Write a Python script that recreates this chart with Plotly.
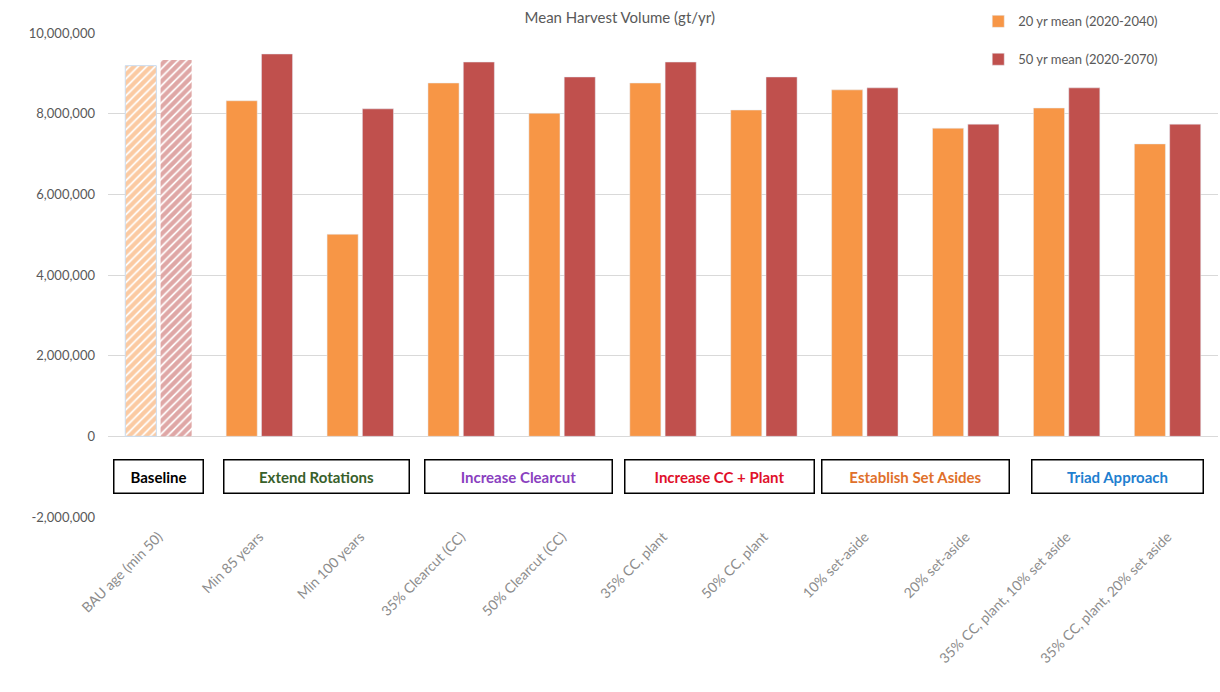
import plotly.graph_objects as go

categories = ["BAU age (min 50)", "Min 85 years", "Min 100 years", "35% Clearcut (CC)",
              "50% Clearcut (CC)", "35% CC, plant", "50% CC, plant", "10% set-aside",
              "20% set-aside", "35% CC, plant, 10% set aside", "35% CC, plant, 20% set aside"]
mean20 = [9190000, 8320000, 5010000, 8760000, 8010000, 8760000, 8090000, 8590000, 7640000, 8140000, 7250000]
mean50 = [9330000, 9480000, 8120000, 9280000, 8910000, 9280000, 8910000, 8640000, 7740000, 8640000, 7740000]
series_names = ["20 yr mean (2020-2040)", "50 yr mean (2020-2070)"]
y_ticks = [-2000000, 0, 2000000, 4000000, 6000000, 8000000, 10000000]
group_labels = ["Baseline", "Extend Rotations", "Increase Clearcut", "Increase CC + Plant",
                "Establish Set Asides", "Triad Approach"]
group_pos = [0, 1.57, 3.57, 5.56, 7.5, 9.5]
group_colors = ["#000000", "#38602a", "#8a3fc0", "#e0102a", "#e0702a", "#1f7fd0"]
group_widths = [80, 176, 178, 180, 178, 162]

ORANGE = "#F79646"
RED = "#C0504D"

fig = go.Figure()
# baseline hatched bars
fig.add_trace(go.Bar(x=categories[:1], y=mean20[:1], offsetgroup="a", showlegend=False,
                     marker=dict(color="white", line=dict(color="#c9dcf0", width=1),
                                 pattern=dict(shape="/", fgcolor=ORANGE, bgcolor="white",
                                              size=6, solidity=0.7, fillmode="overlay"))))
fig.add_trace(go.Bar(x=categories[:1], y=mean50[:1], offsetgroup="b", showlegend=False,
                     marker=dict(color="white", line=dict(color="white", width=0),
                                 pattern=dict(shape="/", fgcolor=RED, bgcolor="white",
                                              size=6, solidity=0.7, fillmode="overlay"))))
# scenario bars
fig.add_trace(go.Bar(x=categories[1:], y=mean20[1:], offsetgroup="a", name=series_names[0],
                     legendgroup="g1", marker=dict(color=ORANGE)))
fig.add_trace(go.Bar(x=categories[1:], y=mean50[1:], offsetgroup="b", name=series_names[1],
                     legendgroup="g2", marker=dict(color=RED)))

for lab, pos, col, w in zip(group_labels, group_pos, group_colors, group_widths):
    fig.add_annotation(x=pos, y=-1000000, xref="x", yref="y", text="<b>%s</b>" % lab,
                       showarrow=False, font=dict(size=15, color=col, family="Lato"),
                       bordercolor="#000000", borderwidth=1.5, borderpad=4,
                       bgcolor="white", width=w, height=24)

fig.update_layout(
    width=1220, height=692,
    margin=dict(l=108, r=2, t=33, b=175),
    paper_bgcolor="white", plot_bgcolor="white",
    font=dict(family="Lato", color="#595959"),
    barmode="group", bargap=0.3, bargroupgap=0.12,
    title=dict(text="Mean Harvest Volume (gt/yr)", x=0.508, xref="container",
               y=1 - 18 / 692, yanchor="middle", xanchor="center",
               font=dict(size=15, color="#595959")),
    legend=dict(x=0.784, y=1.055, xanchor="left", yanchor="top", bgcolor="rgba(0,0,0,0)",
                font=dict(size=13, color="#595959"), tracegroupgap=18,
                itemwidth=30),
    showlegend=True,
)
fig.update_yaxes(range=[-2000000, 10000000], tickvals=y_ticks,
                 ticktext=[f"{v:,}" for v in y_ticks],
                 showgrid=True, gridcolor="#d9d9d9", gridwidth=1.3, zeroline=True,
                 zerolinecolor="#d9d9d9", zerolinewidth=1.3, showline=False,
                 tickfont=dict(size=13, color="#595959"), ticks="", ticklen=0,
                 ticklabelstandoff=12)
fig.update_xaxes(tickangle=-45, tickfont=dict(size=14, color="#8c8c8c"), showline=False,
                 showgrid=False, ticks="", ticklabelstandoff=8)

fig.write_html("out.html")
